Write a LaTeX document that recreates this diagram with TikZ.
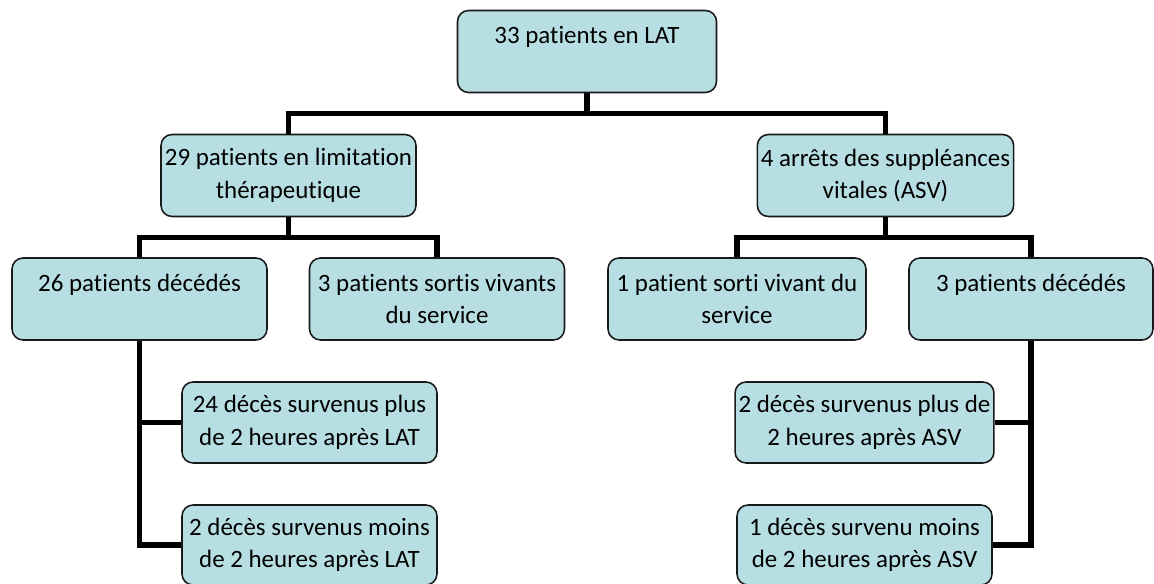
\documentclass[tikz,border=0pt]{standalone}
\usepackage{fontspec}
\setmainfont{Carlito}[Ligatures = NoCommon]

\definecolor{boxblue}{RGB}{183,223,227}

\begin{document}
\begin{tikzpicture}[x = 0.02cm, y = -0.02cm, font = \fontsize{14.2}{18.5}\selectfont]
	\tikzstyle{boxStyle}=[draw = black!90, line width = 0.9pt, fill = boxblue, rounded corners = 0.22cm, align = center, minimum width = 5.1cm, minimum height = 1.64cm, inner sep = 2pt]
	\tikzstyle{linkStyle}=[line width = 3pt]
	\useasboundingbox (0,0) rectangle (1154,584);
	\node[boxStyle, minimum width = 5.18cm] (lat) at (587,51.5) {33 patients en LAT\\~};
	\node[boxStyle] (lim) at (288.5,175.5) {29 patients en limitation\\th\'erapeutique};
	\node[boxStyle] (asv) at (885.5,175.5) {4 arr\^ets des suppl\'eances\\vitales (ASV)};
	\node[boxStyle] (dec26) at (139.5,299) {26 patients d\'ec\'ed\'es\\~};
	\node[boxStyle] (sortis3) at (437,299) {3 patients sortis vivants\\du service};
	\node[boxStyle, minimum width = 5.16cm] (sorti1) at (737,299) {1 patient sorti vivant du\\service};
	\node[boxStyle, minimum width = 4.88cm] (dec3) at (1031,299) {3 patients d\'ec\'ed\'es\\~};
	\node[boxStyle, minimum height = 1.62cm] (plusLAT) at (309.5,422.5) {24 d\'ec\`es survenus plus\\de 2 heures apr\`es LAT};
	\node[boxStyle, minimum height = 1.6cm] (moinsLAT) at (309.5,545) {2 d\'ec\`es survenus moins\\de 2 heures apr\`es LAT};
	\node[boxStyle, minimum height = 1.62cm] (plusASV) at (864.5,422.5) {2 d\'ec\`es survenus plus de\\2 heures apr\`es ASV};
	\node[boxStyle, minimum height = 1.6cm] (moinsASV) at (864.5,545) {1 d\'ec\`es survenu moins\\de 2 heures apr\`es ASV};
	\draw[linkStyle] (lat.south) -- ++(0,20) -| (lim.north);
	\draw[linkStyle] (lat.south) -- ++(0,20) -| (asv.north);
	\draw[linkStyle] (lim.south) -- ++(0,20) -| (dec26.north);
	\draw[linkStyle] (lim.south) -- ++(0,20) -| (sortis3.north);
	\draw[linkStyle] (asv.south) -- ++(0,20) -| (sorti1.north);
	\draw[linkStyle] (asv.south) -- ++(0,20) -| (dec3.north);
	\draw[linkStyle] (dec26.south) |- (plusLAT.west);
	\draw[linkStyle] (dec26.south) |- (moinsLAT.west);
	\draw[linkStyle] (dec3.south) |- (plusASV.east);
	\draw[linkStyle] (dec3.south) |- (moinsASV.east);
\end{tikzpicture}
\end{document}
